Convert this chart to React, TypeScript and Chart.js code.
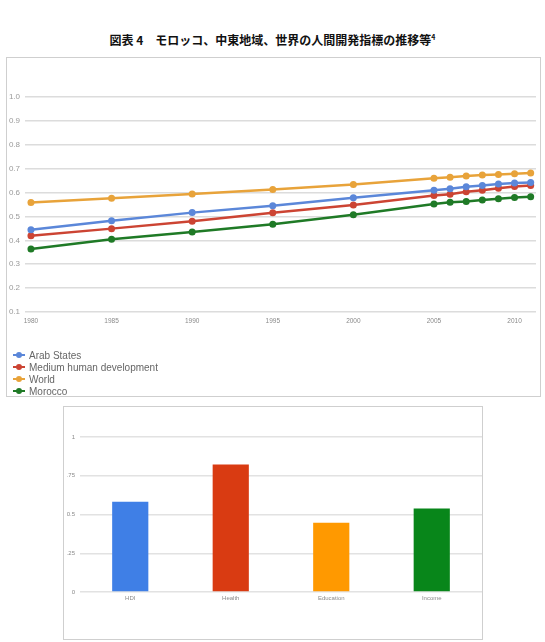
import React, { useEffect, useRef } from "react";
import { Chart, registerables } from "chart.js";

Chart.register(...registerables);

const TITLE = "図表 4　モロッコ、中東地域、世界の人間開発指標の推移等";
const TITLE_NOTE = "4";

const years = [1980, 1985, 1990, 1995, 2000, 2005, 2006, 2007, 2008, 2009, 2010, 2011];
const arabStates = [0.444, 0.482, 0.516, 0.545, 0.578, 0.610, 0.616, 0.624, 0.630, 0.636, 0.640, 0.642];
const mediumHD = [0.419, 0.449, 0.480, 0.515, 0.548, 0.588, 0.593, 0.603, 0.610, 0.618, 0.625, 0.630];
const world = [0.558, 0.576, 0.594, 0.613, 0.634, 0.660, 0.664, 0.669, 0.673, 0.676, 0.679, 0.682];
const morocco = [0.364, 0.405, 0.435, 0.467, 0.507, 0.552, 0.559, 0.563, 0.569, 0.574, 0.579, 0.582];

const seriesNames = ["Arab States", "Medium human development", "World", "Morocco"];
const seriesColors = ["#5b87d9", "#cc4433", "#e8a33a", "#1f7a26"];

const yearTicks = [1980, 1985, 1990, 1995, 2000, 2005, 2010];
const lineYTicks = [0.1, 0.2, 0.3, 0.4, 0.5, 0.6, 0.7, 0.8, 0.9, 1.0];
const lineYLabels = ["0.1", "0.2", "0.3", "0.4", "0.5", "0.6", "0.7", "0.8", "0.9", "1.0"];

const barCategories = ["HDI", "Health", "Education", "Income"];
const barValues = [0.582, 0.822, 0.447, 0.539];
const barColors = ["#3f7fe6", "#d93b12", "#ff9900", "#08861a"];
const barYTicks = [0, 0.25, 0.5, 0.75, 1];
const barYLabels = ["0", ".25", "0.5", ".75", "1"];

const FONT = "'Liberation Sans', Arial, sans-serif";

function LineChart() {
  const ref = useRef<HTMLCanvasElement>(null);
  useEffect(() => {
    const all = [arabStates, mediumHD, world, morocco];
    const chart = new Chart(ref.current!, {
      type: "line",
      data: {
        datasets: all.map((vals, i) => ({
          label: seriesNames[i],
          data: vals.map((v, j) => ({ x: years[j], y: v })),
          borderColor: seriesColors[i],
          backgroundColor: seriesColors[i],
          pointBackgroundColor: seriesColors[i],
          pointBorderColor: seriesColors[i],
          pointRadius: 3.5,
          pointBorderWidth: 0,
          borderWidth: 2.5,
          tension: 0,
        })),
      },
      options: {
        animation: false,
        responsive: false,
        layout: { padding: { top: 39, bottom: 64, left: 0, right: 1 } },
        plugins: { legend: { display: false }, tooltip: { enabled: false } },
        scales: {
          x: {
            type: "linear",
            min: 1979.63,
            max: 2011.33,
            grid: { display: false, drawTicks: false },
            border: { display: false },
            afterBuildTicks: (s: any) => {
              s.ticks = yearTicks.map((v) => ({ value: v }));
            },
            afterFit: (s: any) => {
              s.height = 20;
            },
            ticks: {
              padding: 5,
              maxRotation: 0,
              autoSkip: false,
              color: "#8a8a8a",
              font: { family: FONT, size: 6.5 },
              callback: (v: any) => String(v),
            },
          },
          y: {
            min: 0.1,
            max: 1.0,
            grid: { color: "#dcdcdc", lineWidth: 1.5, drawTicks: false },
            border: { display: false },
            afterBuildTicks: (s: any) => {
              s.ticks = lineYTicks.map((v) => ({ value: v }));
            },
            afterFit: (s: any) => {
              s.width = 18;
            },
            ticks: {
              padding: 5,
              color: "#9a9a9a",
              font: { family: FONT, size: 8 },
              callback: (v: any) => {
                const idx = lineYTicks.findIndex((t) => Math.abs(t - Number(v)) < 1e-6);
                return idx >= 0 ? lineYLabels[idx] : "";
              },
            },
          },
        },
      },
    });
    return () => chart.destroy();
  }, []);
  return <canvas ref={ref} width={533} height={338} style={{ display: "block" }} />;
}

function BarChart() {
  const ref = useRef<HTMLCanvasElement>(null);
  useEffect(() => {
    const chart = new Chart(ref.current!, {
      type: "bar",
      data: {
        labels: barCategories,
        datasets: [
          {
            data: barValues,
            backgroundColor: barColors,
            borderWidth: 0,
            barPercentage: 0.36,
            categoryPercentage: 1,
          },
        ],
      },
      options: {
        animation: false,
        responsive: false,
        layout: { padding: { top: 30, bottom: 33, left: 0, right: 0 } },
        plugins: { legend: { display: false }, tooltip: { enabled: false } },
        scales: {
          x: {
            grid: { display: false, drawTicks: false },
            border: { display: false },
            afterFit: (s: any) => {
              s.height = 14;
            },
            ticks: {
              padding: 3,
              color: "#8a8a8a",
              font: { family: FONT, size: 6 },
            },
          },
          y: {
            min: 0,
            max: 1,
            grid: { color: "#e2e2e2", lineWidth: 1.5, drawTicks: false },
            border: { display: false },
            afterBuildTicks: (s: any) => {
              s.ticks = barYTicks.map((v) => ({ value: v }));
            },
            afterFit: (s: any) => {
              s.width = 16;
            },
            ticks: {
              padding: 5,
              color: "#8a8a8a",
              font: { family: FONT, size: 6 },
              callback: (v: any) => {
                const idx = barYTicks.findIndex((t) => Math.abs(t - Number(v)) < 1e-6);
                return idx >= 0 ? barYLabels[idx] : "";
              },
            },
          },
        },
      },
    });
    return () => chart.destroy();
  }, []);
  return <canvas ref={ref} width={418} height={232} style={{ display: "block" }} />;
}

export default function App() {
  return (
    <div style={{ position: "absolute", left: 0, top: 0, width: 545, height: 642, background: "#fff" }}>
      <div
        style={{
          position: "absolute",
          left: 0,
          top: 31,
          width: 545,
          textAlign: "center",
          fontFamily: "'Noto Sans CJK JP', sans-serif",
          fontWeight: "bold",
          fontSize: 12,
          lineHeight: "18px",
          color: "#111",
        }}
      >
        {TITLE}
        <sup style={{ fontSize: 7, verticalAlign: "top", lineHeight: "12px" }}>{TITLE_NOTE}</sup>
      </div>
      <div
        style={{
          position: "absolute",
          left: 6,
          top: 57,
          width: 533,
          height: 338,
          border: "1px solid #cfcfcf",
        }}
      >
        <LineChart />
        {seriesNames.map((name, i) => (
          <div
            key={name}
            style={{
              position: "absolute",
              left: 6,
              top: 291 + i * 12,
              height: 12,
              display: "flex",
              alignItems: "center",
              fontFamily: FONT,
              fontSize: 10,
              color: "#666",
              whiteSpace: "nowrap",
            }}
          >
            <span style={{ position: "relative", width: 12, height: 12, marginRight: 4 }}>
              <span
                style={{
                  position: "absolute",
                  left: 0,
                  top: 5,
                  width: 12,
                  height: 2,
                  background: seriesColors[i],
                }}
              />
              <span
                style={{
                  position: "absolute",
                  left: 3,
                  top: 3,
                  width: 6,
                  height: 6,
                  borderRadius: 3,
                  background: seriesColors[i],
                }}
              />
            </span>
            {name}
          </div>
        ))}
      </div>
      <div
        style={{
          position: "absolute",
          left: 63,
          top: 406,
          width: 418,
          height: 232,
          border: "1px solid #cfcfcf",
        }}
      >
        <BarChart />
      </div>
    </div>
  );
}
